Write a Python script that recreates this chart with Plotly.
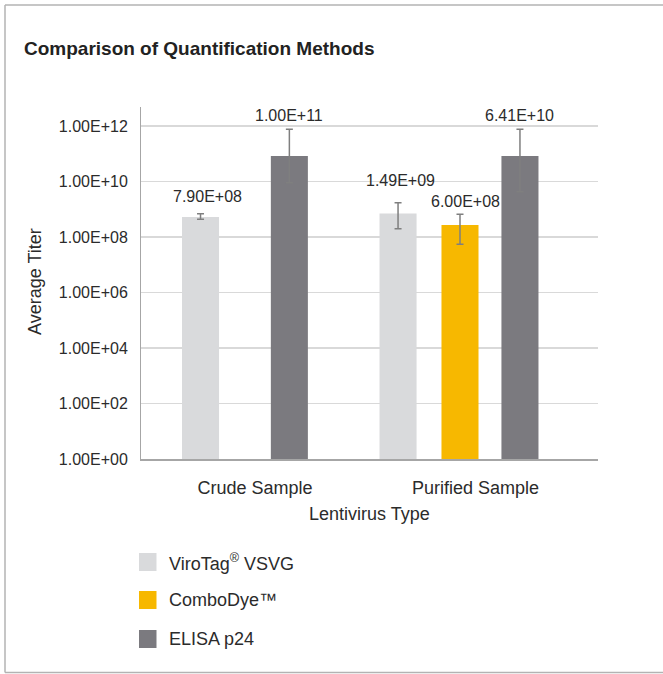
import numpy as np
import plotly.graph_objects as go

# ---------------- data ----------------
categories = ["Crude Sample", "Purified Sample"]
series_names = ["ViroTag<sup>®</sup> VSVG", "ComboDye™", "ELISA p24"]
series_colors = ["#d9dadc", "#f7b800", "#7b7a7f"]

# bar heights (average titer) per series, per category (None = not measured)
virotag_vals = [5.3e8, 7.1e8]
combodye_vals = [None, 2.7e8]
elisa_vals = [8.3e10, 8.3e10]

# error bar extents (upper / lower ends)
virotag_hi = [6.9e8, 1.7e9]
virotag_lo = [4.4e8, 2.0e8]
combodye_hi = [None, 6.6e8]
combodye_lo = [None, 5.5e7]
elisa_hi = [7.6e11, 7.6e11]
elisa_lo = [9.1e9, 4.3e9]

# data label texts shown above the bars
virotag_labels = ["7.90E+08", "1.49E+09"]
combodye_labels = [None, "6.00E+08"]
elisa_labels = ["1.00E+11", "6.41E+10"]

ytick_vals = [1e0, 1e2, 1e4, 1e6, 1e8, 1e10, 1e12]
ytick_text = ["1.00E+00", "1.00E+02", "1.00E+04", "1.00E+06", "1.00E+08", "1.00E+10", "1.00E+12"]

# ---------------- style / layout helpers ----------------
W, H = 663, 674
PL, PR, PT, PB = 141, 598, 107, 459  # plot area in page pixels
bar_width = 0.168
# bar centre offsets (category units) per series, per category
virotag_off = [-0.247, -0.351]
combodye_off = [None, -0.070]
elisa_off = [0.156, 0.202]
# label placement tweaks (px)
virotag_lift = [20, 33]
combodye_lift = [None, 24]
elisa_lift = [41, 41]
virotag_dx = [7, 2]
combodye_dx = [None, 5]
elisa_dx = [0, 0]

FONT = "Liberation Sans, Arial, sans-serif"
TXT = "#2b2b2b"


def px_x(p):
    return (p - PL) / (PR - PL)


def px_y(p):
    return (PB - p) / (PB - PT)


series = [
    (virotag_vals, virotag_hi, virotag_lo, virotag_off, virotag_labels, virotag_lift, virotag_dx),
    (combodye_vals, combodye_hi, combodye_lo, combodye_off, combodye_labels, combodye_lift, combodye_dx),
    (elisa_vals, elisa_hi, elisa_lo, elisa_off, elisa_labels, elisa_lift, elisa_dx),
]

fig = go.Figure()
annotations = []
for (vals, hi, lo, off, labels, lift, dx), name, color in zip(series, series_names, series_colors):
    xs, ys, ep, em, offs = [], [], [], [], []
    for i, v in enumerate(vals):
        if v is None:
            continue
        xs.append(categories[i])
        ys.append(v)
        ep.append(hi[i] - v)
        em.append(v - lo[i])
        offs.append(off[i] - bar_width / 2)
        annotations.append(dict(
            x=i + off[i], y=np.log10(v), xref="x", yref="y",
            text=labels[i], showarrow=False, xshift=dx[i], yshift=lift[i],
            font=dict(family=FONT, size=16, color=TXT),
            xanchor="center", yanchor="middle"))
    fig.add_trace(go.Bar(
        x=xs, y=ys, name=name, width=[bar_width] * len(xs), offset=offs,
        marker=dict(color=color, line=dict(width=0)),
        error_y=dict(type="data", array=ep, arrayminus=em, symmetric=False,
                     color="#7f7f7f", thickness=1.5, width=3.5),
        showlegend=False))

# custom legend (squares + labels)
leg_rows = [562, 600, 639]
shapes = []
for name, color, yc in zip(series_names, series_colors, leg_rows):
    shapes.append(dict(type="rect", xref="paper", yref="paper",
                       x0=px_x(139), x1=px_x(156.5), y0=px_y(yc + 9), y1=px_y(yc - 9),
                       fillcolor=color, line=dict(width=0), layer="above"))
    annotations.append(dict(x=px_x(167), y=px_y(yc), xref="paper", yref="paper",
                            text=name, showarrow=False, xanchor="left", yanchor="middle",
                            font=dict(family=FONT, size=18, color=TXT)))

# outer frame (left, top, bottom edges; right edge lies outside the picture)
frame = dict(color="#b3b3b3", width=1.5)
for x0, y0, x1, y1 in [(5, 5, 5, 672.5), (5, 5, 663, 5), (5, 672.5, 663, 672.5)]:
    shapes.append(dict(type="line", xref="paper", yref="paper",
                       x0=px_x(x0), y0=px_y(y0), x1=px_x(x1), y1=px_y(y1), line=frame))

# title and axis titles
annotations.append(dict(x=px_x(22), y=px_y(49), xref="paper", yref="paper",
                        text="<b>Comparison of Quantification Methods</b>", showarrow=False,
                        xanchor="left", yanchor="middle",
                        font=dict(family=FONT, size=19, color="#222222")))
annotations.append(dict(x=px_x(35), y=px_y(282), xref="paper", yref="paper",
                        text="Average Titer", showarrow=False, textangle=-90,
                        xanchor="center", yanchor="middle",
                        font=dict(family=FONT, size=18, color=TXT)))
annotations.append(dict(x=px_x(369), y=px_y(514), xref="paper", yref="paper",
                        text="Lentivirus Type", showarrow=False,
                        xanchor="center", yanchor="middle",
                        font=dict(family=FONT, size=18, color=TXT)))

fig.update_layout(
    width=W, height=H,
    margin=dict(l=PL, r=W - PR, t=PT, b=H - PB, pad=0),
    paper_bgcolor="white", plot_bgcolor="white",
    barmode="overlay",
    showlegend=False,
    hovermode=False,
    shapes=shapes,
    annotations=annotations,
    font=dict(family=FONT, color=TXT),
)
fig.update_xaxes(
    type="category", categoryorder="array", categoryarray=categories,
    range=[-0.517, 1.556],
    showline=True, linecolor="#a6a6a6", linewidth=1.5,
    showgrid=False, ticks="", ticklabelstandoff=12,
    tickfont=dict(family=FONT, size=18, color=TXT),
)
fig.update_yaxes(
    type="log", range=[0, 12.685],
    tickvals=ytick_vals, ticktext=ytick_text,
    showline=True, linecolor="#a6a6a6", linewidth=1,
    showgrid=True, gridcolor="#d9d9d9", gridwidth=1.5,
    zeroline=False, ticks="", ticklabelstandoff=9,
    tickfont=dict(family=FONT, size=16, color=TXT),
)

fig.write_html(
    "out.html",
    config={"displayModeBar": False, "staticPlot": True},
    post_script="document.body.style.margin='0';document.body.style.overflow='hidden';",
)
